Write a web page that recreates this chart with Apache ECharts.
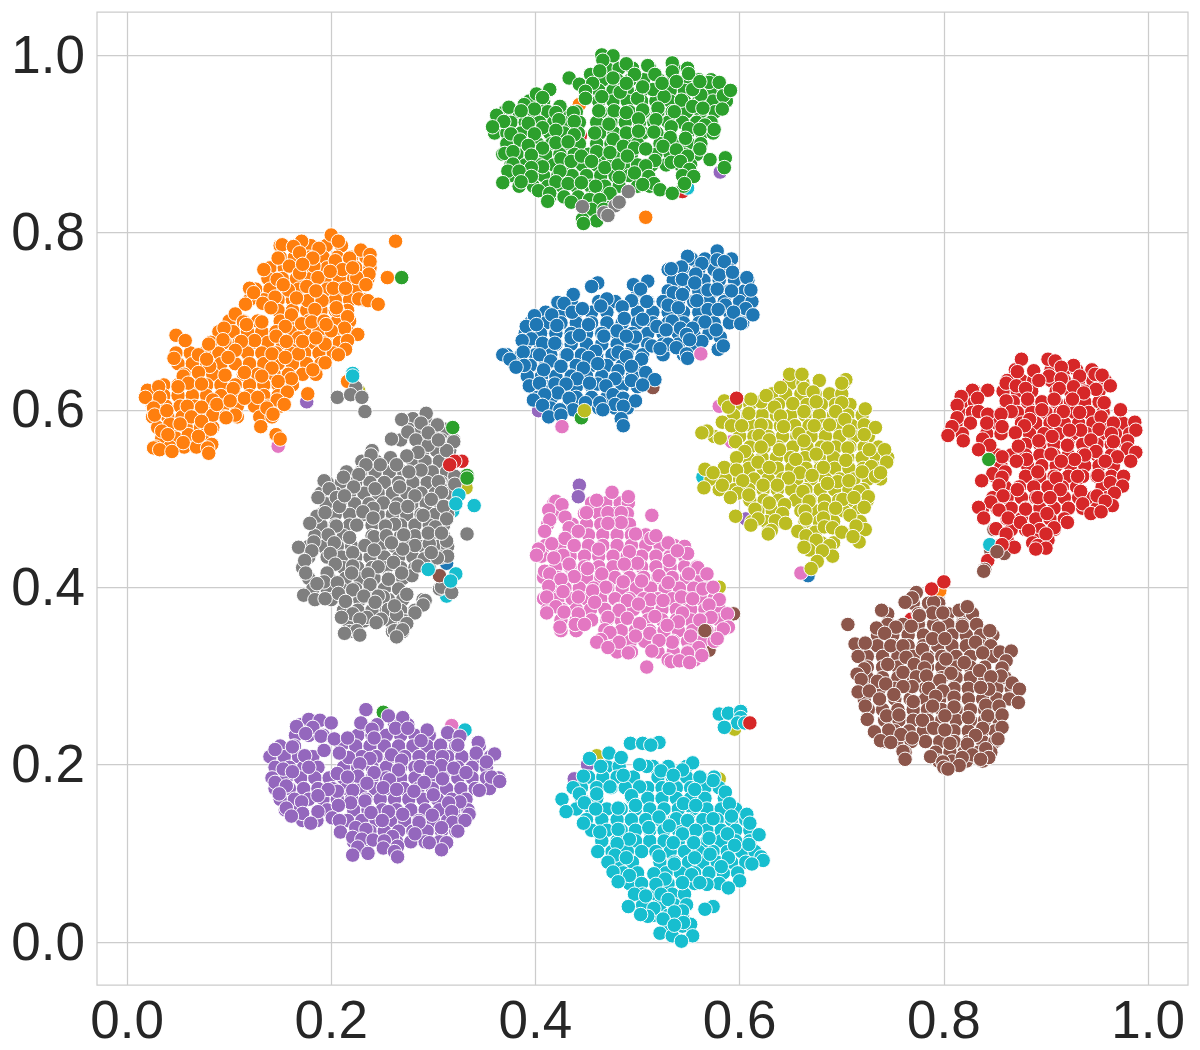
<!DOCTYPE html>
<html><head><meta charset="utf-8"><style>html,body{margin:0;padding:0;background:#fff}#c{width:1200px;height:1050px}</style>
<script src="https://cdn.jsdelivr.net/npm/echarts@6/dist/echarts.min.js"></script></head><body><div id="c"></div>
<script>
const tickValues=[0,0.2,0.4,0.6,0.8,1.0];
const tab10Blue=[[.578,.779],[.549,.773],[.563,.765],[.578,.769],[.585,.767],[.543,.761],[.533,.759],[.557,.753],[.580,.752],[.593,.755],[.544,.747],[.556,.743],[.607,.749],[.461,.743],[.455,.739],[.510,.745],[.496,.741],[.503,.736],[.535,.732],[.569,.735],[.578,.736],[.592,.734],[.611,.735],[.437,.730],[.470,.725],[.494,.723],[.509,.722],[.558,.723],[.544,.730],[.422,.721],[.428,.720],[.464,.717],[.530,.718],[.540,.715],[.586,.718],[.606,.714],[.436,.710],[.569,.713],[.579,.713],[.594,.710],[.446,.714],[.485,.716],[.399,.706],[.416,.707],[.487,.703],[.505,.702],[.534,.700],[.601,.697],[.566,.699],[.613,.707],[.391,.694],[.401,.696],[.421,.695],[.452,.696],[.519,.694],[.542,.692],[.554,.692],[.480,.689],[.396,.680],[.387,.678],[.435,.681],[.467,.683],[.498,.682],[.489,.683],[.528,.690],[.548,.685],[.581,.682],[.577,.690],[.407,.675],[.419,.675],[.443,.684],[.563,.677],[.551,.679],[.514,.672],[.530,.674],[.579,.668],[.584,.672],[.388,.665],[.459,.666],[.481,.665],[.522,.669],[.538,.670],[.548,.663],[.368,.662],[.375,.657],[.431,.662],[.452,.659],[.404,.662],[.504,.657],[.489,.660],[.549,.658],[.389,.650],[.381,.648],[.415,.655],[.461,.652],[.408,.645],[.425,.649],[.447,.647],[.481,.644],[.508,.642],[.494,.649],[.441,.635],[.478,.635],[.494,.633],[.517,.634],[.394,.627],[.404,.630],[.419,.629],[.430,.629],[.461,.629],[.469,.627],[.505,.628],[.422,.619],[.409,.617],[.453,.630],[.476,.617],[.398,.611],[.433,.613],[.449,.608],[.463,.608],[.486,.613],[.498,.610],[.478,.606],[.407,.605],[.437,.600],[.424,.600],[.466,.600],[.486,.604],[.413,.592],[.484,.590],[.486,.582],[.425,.594]];
const tab10Orange=[[.200,.797],[.207,.790],[.188,.782],[.171,.790],[.152,.786],[.163,.784],[.169,.777],[.229,.780],[.238,.775],[.218,.771],[.204,.768],[.148,.771],[.159,.762],[.183,.762],[.238,.767],[.134,.758],[.211,.758],[.169,.754],[.237,.753],[.147,.747],[.187,.749],[.225,.749],[.234,.741],[.120,.737],[.124,.732],[.158,.735],[.202,.737],[.214,.737],[.176,.739],[.145,.727],[.133,.720],[.116,.719],[.141,.715],[.177,.723],[.191,.723],[.227,.725],[.236,.723],[.246,.719],[.206,.712],[.184,.713],[.161,.707],[.216,.705],[.106,.708],[.114,.699],[.095,.692],[.132,.699],[.155,.694],[.171,.697],[.181,.699],[.193,.700],[.213,.692],[.200,.689],[.226,.685],[.146,.683],[.168,.681],[.125,.678],[.112,.677],[.048,.684],[.057,.678],[.080,.674],[.216,.678],[.194,.674],[.106,.667],[.214,.668],[.168,.663],[.142,.663],[.099,.659],[.070,.662],[.046,.658],[.207,.662],[.155,.659],[.194,.653],[.081,.649],[.142,.647],[.115,.642],[.182,.645],[.070,.642],[.096,.639],[.132,.638],[.161,.635],[.055,.638],[.060,.630],[.148,.632],[.050,.626],[.104,.624],[.177,.618],[.020,.622],[.031,.626],[.157,.620],[.032,.614],[.018,.614],[.084,.611],[.115,.613],[.128,.614],[.147,.611],[.059,.604],[.073,.603],[.154,.606],[.137,.602],[.026,.602],[.027,.594],[.084,.594],[.106,.594],[.097,.591],[.063,.592],[.073,.587],[.042,.584],[.143,.595],[.131,.581],[.082,.578],[.034,.576],[.040,.572],[.060,.572],[.146,.572],[.150,.567],[.083,.561],[.026,.557],[.032,.555],[.044,.553],[.079,.557],[.080,.551],[.055,.563],[.070,.570],[.117,.696],[.094,.679],[.078,.657],[.073,.629],[.039,.599],[.052,.584],[.088,.606],[.101,.610],[.172,.677],[.185,.681],[.156,.677],[.195,.696],[.205,.715],[.185,.734],[.166,.726],[.153,.741],[.182,.771],[.199,.756],[.221,.760],[.172,.764],[.263,.790],[.255,.749]];
const tab10Green=[[.465,1.000],[.476,.999],[.466,.994],[.489,.990],[.510,.988],[.534,.991],[.433,.974],[.454,.978],[.463,.982],[.476,.974],[.497,.978],[.517,.978],[.534,.981],[.550,.979],[.443,.967],[.456,.968],[.449,.959],[.449,.951],[.414,.961],[.401,.956],[.407,.952],[.483,.958],[.465,.953],[.500,.951],[.515,.961],[.526,.953],[.543,.949],[.562,.955],[.570,.969],[.580,.969],[.584,.954],[.591,.960],[.554,.961],[.561,.970],[.538,.970],[.524,.968],[.489,.968],[.505,.964],[.374,.941],[.389,.944],[.399,.939],[.424,.942],[.362,.932],[.369,.925],[.386,.937],[.420,.935],[.437,.935],[.462,.937],[.477,.937],[.489,.935],[.505,.938],[.520,.940],[.536,.936],[.554,.942],[.564,.940],[.583,.939],[.423,.927],[.438,.925],[.393,.923],[.407,.918],[.358,.919],[.472,.922],[.501,.928],[.518,.927],[.533,.919],[.550,.917],[.566,.921],[.575,.916],[.561,.916],[.376,.911],[.399,.911],[.420,.915],[.438,.910],[.458,.912],[.489,.912],[.501,.914],[.516,.913],[.385,.904],[.420,.901],[.432,.902],[.476,.905],[.532,.907],[.547,.906],[.561,.894],[.393,.898],[.407,.895],[.370,.889],[.378,.891],[.396,.887],[.460,.891],[.473,.890],[.486,.897],[.497,.895],[.508,.894],[.525,.897],[.538,.893],[.549,.886],[.425,.883],[.435,.880],[.445,.886],[.455,.880],[.378,.877],[.407,.874],[.396,.873],[.468,.873],[.481,.876],[.490,.886],[.517,.881],[.533,.879],[.542,.880],[.571,.882],[.586,.884],[.585,.873],[.373,.869],[.384,.869],[.424,.869],[.551,.871],[.508,.875],[.396,.863],[.368,.856],[.386,.857],[.420,.857],[.432,.855],[.445,.856],[.459,.852],[.482,.862],[.497,.867],[.511,.863],[.516,.855],[.544,.864],[.555,.863],[.546,.855],[.505,.854],[.403,.847],[.414,.844],[.428,.840],[.435,.834],[.473,.844],[.522,.848],[.534,.844],[.453,.837],[.463,.837],[.412,.835],[.455,.826],[.467,.826],[.446,.815],[.460,.813],[.447,.810],[.469,.820],[.269,.749]];
const tab10Red=[[.876,.657],[.902,.657],[.909,.655],[.927,.650],[.915,.648],[.872,.643],[.888,.644],[.903,.638],[.933,.638],[.948,.640],[.955,.639],[.915,.635],[.861,.630],[.893,.633],[.927,.626],[.963,.627],[.843,.622],[.828,.622],[.871,.627],[.880,.624],[.913,.624],[.949,.623],[.817,.615],[.833,.613],[.937,.619],[.882,.612],[.861,.610],[.908,.612],[.957,.608],[.813,.605],[.926,.612],[.834,.598],[.973,.600],[.896,.600],[.917,.598],[.933,.597],[.866,.598],[.843,.595],[.856,.595],[.813,.591],[.954,.592],[.884,.589],[.908,.588],[.842,.585],[.966,.585],[.987,.586],[.808,.581],[.857,.581],[.879,.582],[.934,.577],[.952,.578],[.923,.577],[.870,.574],[.988,.577],[.804,.571],[.906,.570],[.964,.573],[.893,.565],[.819,.565],[.838,.567],[.944,.566],[.980,.565],[.921,.560],[.873,.559],[.845,.560],[.966,.564],[.834,.555],[.949,.553],[.980,.556],[.988,.552],[.905,.550],[.938,.549],[.970,.547],[.881,.544],[.871,.542],[.958,.542],[.928,.544],[.983,.542],[.857,.547],[.915,.542],[.892,.530],[.848,.528],[.860,.530],[.931,.525],[.951,.526],[.976,.525],[.857,.524],[.910,.523],[.837,.520],[.963,.518],[.914,.510],[.872,.510],[.934,.508],[.975,.514],[.854,.515],[.967,.506],[.858,.503],[.892,.501],[.904,.501],[.950,.503],[.846,.496],[.880,.488],[.936,.494],[.834,.490],[.965,.492],[.854,.487],[.958,.497],[.944,.483],[.901,.483],[.954,.485],[.839,.478],[.863,.478],[.921,.473],[.875,.473],[.908,.467],[.883,.464],[.851,.466],[.861,.460],[.900,.460],[.869,.445],[.887,.450],[.892,.447],[.900,.444],[.890,.443],[.857,.448],[.843,.430]];
const tab10Purple=[[.234,.262],[.256,.255],[.270,.253],[.178,.251],[.189,.250],[.200,.247],[.229,.247],[.166,.243],[.182,.242],[.263,.241],[.275,.241],[.294,.239],[.175,.235],[.240,.240],[.190,.232],[.314,.236],[.326,.232],[.203,.229],[.216,.230],[.242,.230],[.344,.225],[.288,.227],[.307,.222],[.324,.222],[.162,.220],[.145,.217],[.193,.216],[.174,.210],[.217,.208],[.208,.213],[.342,.213],[.360,.212],[.259,.211],[.238,.207],[.269,.205],[.309,.209],[.352,.203],[.153,.195],[.178,.197],[.308,.199],[.287,.198],[.228,.201],[.320,.196],[.162,.192],[.242,.191],[.266,.194],[.332,.191],[.206,.190],[.298,.192],[.226,.187],[.357,.186],[.216,.186],[.309,.184],[.257,.183],[.145,.180],[.291,.180],[.156,.176],[.365,.181],[.235,.179],[.345,.171],[.251,.174],[.221,.171],[.206,.170],[.264,.172],[.281,.170],[.197,.172],[.187,.165],[.300,.166],[.149,.167],[.171,.158],[.233,.159],[.326,.158],[.219,.157],[.315,.157],[.207,.154],[.156,.151],[.318,.147],[.187,.147],[.256,.147],[.172,.145],[.270,.144],[.299,.143],[.335,.144],[.161,.142],[.201,.140],[.239,.146],[.250,.137],[.286,.135],[.180,.134],[.208,.137],[.319,.135],[.331,.137],[.308,.129],[.224,.129],[.234,.127],[.324,.125],[.209,.124],[.282,.122],[.260,.119],[.221,.118],[.230,.116],[.241,.115],[.252,.114],[.296,.112],[.313,.112],[.226,.107],[.265,.108],[.308,.104],[.251,.106],[.262,.102],[.236,.100],[.221,.098],[.265,.096]];
const tab10Brown=[[.773,.394],[.769,.388],[.762,.383],[.790,.383],[.739,.374],[.815,.374],[.823,.378],[.789,.371],[.799,.371],[.776,.368],[.706,.358],[.753,.355],[.768,.356],[.734,.354],[.795,.354],[.818,.356],[.845,.351],[.789,.342],[.801,.342],[.742,.348],[.831,.338],[.713,.336],[.723,.337],[.748,.334],[.760,.334],[.779,.330],[.855,.327],[.838,.326],[.866,.328],[.716,.322],[.763,.321],[.784,.319],[.802,.319],[.820,.315],[.861,.317],[.745,.313],[.771,.313],[.857,.309],[.781,.309],[.722,.308],[.760,.304],[.835,.306],[.807,.303],[.715,.302],[.856,.300],[.719,.296],[.773,.299],[.783,.300],[.846,.299],[.796,.295],[.735,.294],[.743,.291],[.769,.288],[.760,.288],[.785,.286],[.844,.285],[.867,.292],[.874,.285],[.716,.282],[.799,.283],[.751,.279],[.727,.283],[.836,.287],[.737,.274],[.792,.277],[.810,.276],[.864,.274],[.873,.270],[.770,.271],[.723,.266],[.841,.267],[.854,.266],[.789,.266],[.810,.265],[.744,.255],[.756,.256],[.824,.253],[.843,.255],[.857,.256],[.725,.251],[.779,.250],[.801,.255],[.857,.242],[.838,.241],[.790,.241],[.732,.237],[.746,.239],[.801,.239],[.758,.234],[.831,.233],[.769,.230],[.738,.227],[.853,.229],[.806,.224],[.823,.223],[.748,.225],[.760,.215],[.841,.218],[.828,.211],[.787,.209],[.844,.208],[.762,.206],[.818,.208],[.836,.206],[.799,.203],[.815,.199],[.800,.197],[.804,.195]];
const tab10Pink=[[.475,.507],[.491,.502],[.460,.498],[.420,.497],[.426,.493],[.413,.487],[.514,.481],[.429,.479],[.471,.484],[.484,.484],[.450,.484],[.414,.476],[.484,.473],[.471,.472],[.433,.467],[.409,.463],[.442,.463],[.498,.460],[.513,.455],[.518,.458],[.416,.449],[.429,.455],[.438,.447],[.530,.450],[.403,.443],[.462,.443],[.492,.440],[.401,.436],[.546,.446],[.549,.438],[.427,.436],[.418,.433],[.531,.430],[.539,.441],[.451,.421],[.433,.426],[.500,.427],[.487,.426],[.559,.422],[.409,.418],[.414,.415],[.568,.415],[.550,.415],[.465,.415],[.521,.413],[.438,.412],[.486,.406],[.504,.407],[.530,.405],[.425,.409],[.413,.401],[.469,.400],[.564,.398],[.574,.400],[.427,.395],[.456,.396],[.442,.389],[.411,.389],[.543,.389],[.513,.386],[.458,.383],[.580,.386],[.525,.385],[.490,.385],[.501,.381],[.554,.387],[.570,.380],[.420,.378],[.482,.374],[.411,.371],[.428,.372],[.588,.370],[.517,.367],[.544,.371],[.442,.370],[.490,.365],[.572,.366],[.561,.363],[.540,.361],[.502,.359],[.471,.366],[.424,.355],[.439,.358],[.448,.358],[.529,.357],[.468,.352],[.589,.355],[.584,.353],[.473,.349],[.512,.348],[.552,.345],[.498,.345],[.578,.342],[.464,.341],[.482,.338],[.534,.338],[.521,.340],[.460,.338],[.560,.332],[.471,.332],[.491,.326],[.514,.328],[.549,.326],[.563,.323],[.533,.316],[.541,.317],[.551,.315],[.509,.310]];
const tab10Gray=[[.293,.596],[.269,.589],[.288,.585],[.304,.583],[.275,.575],[.259,.567],[.283,.566],[.295,.560],[.320,.564],[.313,.554],[.285,.552],[.239,.549],[.274,.548],[.258,.546],[.248,.538],[.264,.538],[.234,.538],[.288,.532],[.276,.530],[.227,.527],[.212,.524],[.193,.520],[.321,.525],[.305,.519],[.198,.511],[.222,.513],[.243,.511],[.267,.513],[.321,.516],[.187,.501],[.205,.501],[.282,.503],[.251,.495],[.208,.491],[.241,.489],[.263,.489],[.275,.491],[.310,.491],[.231,.485],[.290,.481],[.241,.478],[.186,.480],[.179,.472],[.313,.477],[.205,.469],[.225,.470],[.262,.471],[.253,.469],[.302,.468],[.197,.459],[.218,.456],[.242,.457],[.271,.459],[.333,.460],[.254,.458],[.313,.452],[.183,.451],[.203,.450],[.282,.447],[.296,.449],[.233,.447],[.168,.445],[.181,.441],[.242,.442],[.270,.443],[.221,.439],[.199,.438],[.314,.435],[.291,.432],[.304,.433],[.174,.430],[.261,.428],[.221,.424],[.204,.426],[.246,.423],[.175,.416],[.196,.416],[.236,.415],[.279,.413],[.256,.409],[.193,.406],[.206,.405],[.186,.404],[.238,.403],[.221,.397],[.308,.400],[.274,.392],[.318,.394],[.207,.393],[.173,.391],[.232,.390],[.251,.389],[.184,.386],[.194,.387],[.214,.384],[.292,.385],[.290,.380],[.256,.375],[.221,.370],[.264,.369],[.282,.371],[.235,.366],[.210,.366],[.228,.364],[.249,.364],[.274,.359],[.225,.351],[.213,.348],[.228,.346],[.262,.351],[.270,.352],[.264,.344],[.244,.360],[.295,.574],[.305,.566],[.308,.507],[.298,.499],[.295,.461],[.308,.461],[.220,.416],[.246,.390],[.213,.503],[.194,.484],[.259,.450],[.285,.424],[.269,.416],[.262,.379],[.243,.383],[.298,.439],[.224,.625],[.206,.614],[.219,.617],[.230,.614],[.233,.598],[.491,.846],[.478,.830],[.482,.834],[.446,.829],[.467,.822],[.471,.819]];
const tab10Olive=[[.649,.640],[.661,.640],[.704,.634],[.678,.633],[.700,.630],[.640,.625],[.663,.624],[.672,.620],[.621,.609],[.626,.616],[.611,.612],[.585,.610],[.589,.603],[.652,.607],[.675,.609],[.700,.608],[.634,.603],[.723,.601],[.609,.596],[.663,.598],[.694,.598],[.640,.593],[.703,.589],[.583,.586],[.592,.582],[.621,.583],[.643,.581],[.673,.582],[.688,.583],[.722,.583],[.733,.580],[.602,.582],[.568,.576],[.563,.574],[.658,.573],[.722,.572],[.707,.576],[.581,.568],[.619,.571],[.663,.565],[.629,.566],[.596,.564],[.686,.557],[.727,.555],[.621,.558],[.605,.553],[.639,.555],[.706,.557],[.742,.555],[.655,.544],[.597,.546],[.704,.543],[.744,.541],[.618,.541],[.675,.550],[.585,.535],[.629,.535],[.566,.533],[.574,.529],[.597,.532],[.682,.535],[.729,.536],[.720,.530],[.659,.529],[.671,.526],[.603,.520],[.648,.523],[.696,.519],[.707,.520],[.733,.525],[.686,.517],[.565,.512],[.583,.515],[.623,.515],[.637,.515],[.738,.529],[.598,.506],[.609,.504],[.662,.508],[.717,.508],[.701,.499],[.712,.501],[.726,.502],[.591,.501],[.629,.495],[.644,.493],[.668,.497],[.722,.490],[.683,.489],[.694,.489],[.615,.488],[.664,.486],[.642,.483],[.596,.480],[.708,.481],[.618,.477],[.635,.475],[.682,.478],[.665,.477],[.645,.472],[.611,.470],[.683,.468],[.691,.467],[.657,.463],[.631,.464],[.723,.465],[.714,.469],[.628,.460],[.700,.462],[.665,.458],[.717,.451],[.675,.453],[.711,.457],[.688,.447],[.668,.442],[.663,.445],[.691,.435],[.681,.441],[.676,.429],[.670,.421]];
const tab10Cyan=[[.580,.257],[.589,.258],[.601,.260],[.601,.253],[.598,.247],[.585,.242],[.605,.247],[.493,.224],[.505,.224],[.521,.225],[.513,.222],[.472,.213],[.453,.207],[.484,.208],[.464,.198],[.509,.198],[.554,.202],[.544,.194],[.523,.193],[.486,.188],[.502,.200],[.447,.187],[.535,.188],[.574,.182],[.561,.186],[.473,.175],[.502,.175],[.437,.174],[.531,.173],[.556,.172],[.586,.169],[.460,.167],[.443,.167],[.494,.165],[.426,.161],[.448,.157],[.545,.156],[.498,.154],[.557,.154],[.430,.147],[.459,.150],[.481,.151],[.590,.156],[.521,.141],[.607,.144],[.592,.142],[.574,.139],[.447,.134],[.538,.139],[.549,.137],[.610,.134],[.531,.131],[.511,.129],[.557,.126],[.481,.127],[.463,.124],[.588,.122],[.619,.121],[.544,.122],[.492,.116],[.570,.117],[.535,.112],[.609,.110],[.480,.111],[.555,.112],[.595,.109],[.461,.102],[.521,.097],[.571,.099],[.478,.098],[.589,.095],[.489,.095],[.556,.095],[.621,.096],[.623,.092],[.536,.088],[.612,.088],[.471,.090],[.582,.085],[.476,.079],[.516,.077],[.553,.076],[.527,.071],[.492,.075],[.600,.069],[.568,.065],[.481,.068],[.589,.061],[.561,.067],[.544,.067],[.518,.065],[.497,.054],[.508,.052],[.523,.054],[.530,.048],[.491,.040],[.574,.040],[.566,.037],[.516,.038],[.544,.035],[.536,.034],[.510,.029],[.503,.031],[.525,.026],[.552,.020],[.545,.022],[.522,.010],[.534,.007],[.554,.007],[.543,.001],[.536,.019]];
const clusters=[tab10Blue,tab10Orange,tab10Green,tab10Red,tab10Purple,tab10Brown,tab10Pink,tab10Gray,tab10Olive,tab10Cyan];
const colors=['#1f77b4','#ff7f0e','#2ca02c','#d62728','#9467bd','#8c564b','#e377c2','#7f7f7f','#bcbd22','#17becf'];
// the lower layers of each crowded cloud, read row by row as [y, [x, x, ...]]
const packedBlue=[[.770,[.553,.566,.580,.592]],[.758,[.530,.545,.560,.575,.590]],[.746,[.535,.550,.565,.580,.595,.608]],[.734,[.500,.530,.545,.560,.575,.590,.605]],[.722,[.435,.462,.478,.495,.510,.525,.540,.555,.570,.585,.600,.612]],[.710,[.410,.425,.440,.455,.470,.500,.515,.530,.545,.560,.575,.590,.605]],[.698,[.395,.410,.425,.440,.455,.470,.485,.500,.515,.530,.545,.560,.575,.590,.603]],[.686,[.390,.405,.420,.435,.450,.465,.480,.495,.510,.525,.540,.555,.570]],[.674,[.390,.405,.420,.435,.450,.465,.480,.495,.510,.525,.540,.555,.583]],[.662,[.372,.386,.400,.415,.430,.445,.460,.475,.490,.505,.525,.545]],[.650,[.380,.395,.410,.425,.440,.455,.470,.485,.500]],[.638,[.392,.406,.420,.435,.450,.465,.480,.495,.510]],[.626,[.395,.410,.425,.440,.455,.470,.485,.500]],[.614,[.402,.416,.440,.455,.470,.485]],[.602,[.415,.430,.462,.478,.490]]];
const packedOrange=[[.785,[.150,.165,.180,.195,.210]],[.772,[.150,.164,.178,.192,.206,.220,.234]],[.760,[.140,.154,.168,.182,.196,.210,.224,.238]],[.748,[.138,.152,.166,.180,.194,.208,.222,.236]],[.736,[.126,.140,.154,.168,.182,.196,.210,.224]],[.724,[.120,.134,.148,.162,.176,.190,.204,.218,.232]],[.712,[.148,.162,.176,.190,.204,.216]],[.700,[.100,.114,.128,.150,.164,.178,.192,.206,.218]],[.688,[.090,.104,.118,.132,.146,.160,.174,.188,.202,.216]],[.676,[.082,.096,.110,.124,.138,.152,.166,.180,.194,.208]],[.664,[.048,.062,.076,.090,.104,.118,.132,.146,.160,.174,.188,.202]],[.652,[.050,.064,.078,.092,.106,.120,.134,.148,.162,.176,.190]],[.640,[.056,.070,.084,.114,.128,.144,.158,.172,.185]],[.628,[.036,.050,.064,.078,.092,.106,.120,.134,.148,.162]],[.616,[.022,.036,.050,.064,.078,.092,.106,.120,.134,.148]],[.604,[.025,.038,.052,.066,.080,.094,.108,.125,.138,.150]],[.592,[.025,.040,.054,.068,.082,.096,.108,.130,.142]],[.580,[.030,.044,.058,.072,.084]],[.568,[.034,.048,.062,.076]],[.558,[.028,.042,.056,.068,.080]]];
const packedGreen=[[.985,[.470,.482,.495,.512,.536,.549]],[.972,[.466,.480,.493,.506,.521,.535,.548,.560,.572]],[.960,[.462,.476,.490,.504,.518,.532,.546,.558,.572,.585]],[.948,[.394,.408,.462,.476,.490,.504,.518,.532,.546,.560,.574,.587]],[.936,[.370,.384,.398,.412,.426,.440,.464,.478,.492,.506,.520,.534,.548,.562,.576]],[.924,[.362,.376,.390,.404,.418,.432,.443,.460,.474,.488,.502,.516,.530,.544,.558,.572]],[.912,[.360,.372,.386,.400,.414,.428,.442,.463,.477,.491,.505,.519,.549,.563,.574]],[.900,[.372,.388,.402,.416,.430,.443,.460,.474,.488,.500,.522,.536,.550,.562]],[.888,[.368,.382,.396,.410,.424,.438,.452,.466,.480,.494,.518,.532,.546,.558]],[.876,[.376,.390,.404,.418,.432,.446,.460,.474,.488,.500,.514,.528,.542,.552]],[.864,[.376,.392,.408,.422,.436,.450,.464,.478,.492,.510,.548]],[.852,[.384,.398,.412,.426,.440,.454,.468,.482,.500,.512,.545]],[.840,[.414,.428,.442,.456,.470]],[.828,[.448,.460,.472]]];
const packedRed=[[.645,[.870,.905,.918,.930,.945]],[.633,[.862,.876,.888,.905,.918,.932,.946,.958]],[.621,[.830,.858,.872,.886,.910,.924,.938,.952]],[.609,[.818,.830,.868,.882,.896,.910,.924,.938,.952]],[.597,[.815,.828,.858,.872,.886,.900,.914,.928,.942,.956]],[.585,[.812,.826,.852,.876,.890,.904,.918,.932,.946,.960,.975]],[.573,[.805,.818,.842,.856,.884,.898,.912,.926,.940,.954,.968,.982]],[.561,[.840,.880,.894,.908,.922,.936,.950,.964,.978]],[.549,[.852,.866,.880,.894,.908,.922,.936,.950,.964,.978]],[.537,[.856,.882,.896,.910,.924,.938,.952,.966]],[.525,[.850,.880,.894,.908,.922,.936,.950,.964]],[.513,[.860,.874,.888,.902,.916,.930,.955]],[.501,[.848,.862,.876,.890,.904,.918,.932,.946,.960]],[.489,[.838,.852,.866,.880,.894,.908,.922,.936,.950]],[.477,[.862,.876,.890,.904,.918]],[.465,[.866,.880,.894,.908]],[.453,[.862,.890,.902]]];
const packedPurple=[[.245,[.170,.184,.230,.245,.262,.275]],[.233,[.165,.178,.192,.226,.240,.254,.268,.282,.296,.318]],[.221,[.150,.164,.210,.224,.238,.252,.266,.280,.294,.308,.322,.345]],[.209,[.140,.154,.168,.182,.215,.230,.244,.258,.272,.286,.300,.314,.328,.342,.356]],[.197,[.145,.159,.173,.187,.212,.226,.240,.254,.268,.282,.296,.310,.324,.338,.352]],[.185,[.142,.156,.170,.184,.198,.212,.226,.240,.254,.268,.282,.296,.310,.324,.338,.352,.364]],[.173,[.145,.159,.173,.187,.201,.215,.229,.243,.257,.271,.285,.299,.313,.327,.341,.355]],[.161,[.150,.164,.178,.192,.206,.220,.234,.248,.262,.276,.290,.304,.318,.332]],[.149,[.155,.169,.196,.222,.236,.250,.264,.278,.292,.306,.320,.334]],[.137,[.172,.186,.216,.230,.244,.258,.272,.286,.300,.314,.328]],[.125,[.224,.238,.252,.266,.280,.294,.308,.322]],[.113,[.222,.236,.250,.264,.278,.292,.306]]];
const packedBrown=[[.382,[.770,.785,.795]],[.370,[.745,.775,.790,.804,.818,.828]],[.358,[.745,.760,.775,.790,.804,.818,.832]],[.346,[.735,.750,.765,.780,.794,.808,.822,.836,.848]],[.334,[.720,.735,.750,.765,.780,.794,.808,.822,.836,.846]],[.322,[.725,.740,.755,.770,.784,.798,.812,.826,.848,.860]],[.310,[.725,.740,.755,.770,.784,.798,.812,.826,.840,.858]],[.298,[.725,.740,.755,.770,.784,.798,.812,.826,.840,.860]],[.286,[.722,.737,.752,.767,.782,.796,.810,.824,.838,.852,.866]],[.274,[.722,.752,.767,.782,.796,.810,.824,.838,.852,.866]],[.262,[.726,.740,.755,.770,.784,.798,.812,.826,.840,.854]],[.250,[.742,.756,.770,.784,.798,.812,.826,.840,.854]],[.238,[.752,.766,.780,.796,.810,.824,.838,.850]],[.226,[.740,.754,.768,.782,.796,.810,.824,.838,.850]],[.214,[.762,.792,.806,.820,.834,.846]],[.204,[.795,.808,.822,.838]]];
const packedPink=[[.495,[.418,.455,.469,.483,.491]],[.483,[.415,.425,.448,.462,.476,.490]],[.471,[.412,.436,.450,.464,.478,.492]],[.459,[.438,.452,.466,.480,.494,.508]],[.447,[.410,.424,.438,.452,.466,.480,.494,.508,.522,.536]],[.435,[.406,.420,.434,.448,.462,.476,.490,.504,.518,.532,.546]],[.423,[.420,.434,.448,.462,.476,.490,.504,.518,.532,.546,.558]],[.411,[.408,.422,.436,.450,.464,.478,.492,.506,.520,.534,.548,.562]],[.399,[.415,.429,.443,.457,.471,.485,.499,.513,.527,.541,.555,.568]],[.387,[.408,.422,.436,.450,.464,.478,.492,.506,.520,.534,.548,.562,.575]],[.375,[.412,.426,.440,.454,.468,.482,.496,.510,.524,.538,.552,.566,.580]],[.363,[.425,.440,.455,.470,.484,.510,.524,.538,.552,.566,.580]],[.351,[.425,.440,.470,.484,.498,.512,.526,.540,.554,.568,.582]],[.339,[.465,.479,.493,.507,.521,.535,.549,.563,.575]],[.327,[.480,.494,.520,.535,.549,.562]],[.318,[.530,.544,.556]]];
const packedGray=[[.590,[.280,.292]],[.578,[.276,.288,.300,.312]],[.566,[.268,.295,.308,.320]],[.554,[.240,.290,.303,.316]],[.542,[.230,.244,.258,.280,.292,.306,.318]],[.530,[.215,.229,.243,.257,.271,.285,.299,.313]],[.518,[.196,.210,.224,.238,.252,.266,.280,.294,.308,.320]],[.506,[.190,.204,.218,.232,.246,.260,.274,.288,.302,.316]],[.494,[.195,.209,.223,.237,.251,.265,.279,.293,.307]],[.482,[.190,.204,.218,.232,.246,.260,.274,.288,.302,.314]],[.470,[.190,.204,.218,.240,.254,.268,.282,.296,.310]],[.458,[.184,.198,.212,.240,.254,.268,.282,.296,.310]],[.446,[.178,.192,.206,.220,.234,.248,.262,.276,.290,.304,.314]],[.434,[.178,.196,.210,.224,.238,.252,.266,.280,.294,.308]],[.422,[.172,.212,.226,.240,.254,.268,.282,.296]],[.410,[.178,.198,.214,.228,.242,.256,.270]],[.398,[.182,.196,.210,.224,.238,.252,.266,.306,.316]],[.386,[.200,.214,.228,.242,.256,.270,.290]],[.374,[.212,.226,.240,.254,.268,.282]],[.362,[.216,.232,.258,.272]],[.350,[.218,.260,.270]]];
const packedOlive=[[.630,[.650,.662,.702]],[.618,[.632,.645,.660,.674,.688,.700]],[.606,[.596,.610,.624,.638,.652,.666,.680,.694,.708]],[.594,[.594,.608,.622,.636,.650,.664,.678,.692,.706,.720]],[.582,[.612,.626,.640,.654,.668,.682,.696,.710,.724]],[.570,[.575,.600,.614,.628,.642,.656,.670,.684,.698,.712,.726]],[.558,[.610,.624,.638,.652,.666,.680,.694,.708,.722,.736]],[.546,[.608,.622,.636,.650,.664,.678,.692,.706,.720,.734,.745]],[.534,[.595,.609,.623,.637,.651,.665,.679,.693,.707,.721,.735]],[.522,[.572,.586,.600,.614,.628,.642,.656,.670,.684,.698,.712,.726,.738]],[.510,[.580,.595,.609,.623,.637,.651,.665,.679,.693,.707,.721]],[.498,[.610,.624,.638,.655,.669,.683,.697,.711,.725]],[.486,[.618,.632,.660,.674,.688,.702,.716]],[.474,[.612,.626,.640,.664,.678,.692,.718]],[.462,[.628,.660,.674,.712]],[.450,[.668,.680,.692]]];
const packedCyan=[[.198,[.470,.482,.515,.530,.548]],[.186,[.452,.466,.480,.496,.520,.534,.548,.562,.575]],[.174,[.445,.460,.474,.488,.510,.524,.538,.552,.566,.580]],[.162,[.445,.460,.495,.510,.524,.538,.552,.566,.585]],[.150,[.440,.455,.470,.484,.498,.512,.526,.540,.554,.568,.582,.596]],[.138,[.450,.465,.480,.494,.508,.522,.536,.550,.564,.578,.592,.606]],[.126,[.455,.470,.484,.498,.512,.526,.540,.554,.568,.582,.596,.610]],[.114,[.465,.480,.498,.512,.526,.540,.554,.568,.582,.596,.610]],[.102,[.475,.490,.504,.518,.532,.546,.560,.574,.588,.602,.615]],[.090,[.482,.495,.522,.536,.550,.564,.578,.592,.606]],[.078,[.486,.500,.528,.542,.556,.570,.584,.598]],[.066,[.492,.504,.530,.544,.556,.580]],[.054,[.505,.518,.534,.546]],[.042,[.505,.522,.536,.548]],[.030,[.515,.530,.544]],[.018,[.530,.544]]];
const packed=[packedBlue,packedOrange,packedGreen,packedRed,packedPurple,packedBrown,packedPink,packedGray,packedOlive,packedCyan];
// points of one class that sit inside another class's cluster, hidden partly beneath it
const underBlue=[[.313,.427],[.667,.413]];
const underOrange=[[.443,.944],[.796,.396],[.216,.632]];
const underGreen=[[.657,.634],[.251,.259],[.333,.526]];
const underRed=[[.444,.909],[.544,.846],[.648,.630],[.768,.364],[.328,.542]];
const underPurple=[[.581,.868],[.176,.609],[.403,.599],[.606,.477],[.451,.200],[.438,.184]];
const underBrown=[[.515,.625],[.846,.441],[.859,.438],[.849,.465],[.594,.370],[.570,.329]];
const underPink=[[.148,.559],[.611,.720],[.580,.604],[.592,.564],[.660,.416],[.318,.244]];
const underGray=[];
const underOlive=[[.227,.621],[.332,.512],[.580,.400],[.595,.240],[.460,.210],[.580,.184]];
const underCyan=[[.549,.850],[.319,.486],[.313,.390],[.845,.448],[.564,.524],[.331,.239]];
const unders=[underBlue,underOrange,underGreen,underRed,underPurple,underBrown,underPink,underGray,underOlive,underCyan];
// the same, but drawn on top
const overBlue=[];
const overOrange=[[.508,.817]];
const overGreen=[[.319,.580],[.333,.523],[.445,.591],[.844,.544]];
const overRed=[[.597,.613],[.788,.398],[.800,.406],[.610,.247],[.321,.542],[.316,.538]];
const overPurple=[[.443,.515],[.442,.502]];
const overBrown=[[.306,.413],[.566,.351],[.852,.440],[.840,.420],[.839,.418]];
const overPink=[[.562,.663],[.426,.581]];
const overGray=[];
const overOlive=[[.448,.599]];
const overCyan=[[.221,.641],[.221,.638],[.325,.504],[.322,.494],[.340,.492],[.295,.420],[.322,.415],[.317,.407]];
const overs=[overBlue,overOrange,overGreen,overRed,overPurple,overBrown,overPink,overGray,overOlive,overCyan];
const mk=(data,i,z)=>({type:'scatter',data,symbolSize:14.5,z,silent:true,large:false,itemStyle:{color:colors[i],borderColor:'#fff',borderWidth:1,opacity:1}});
const series=[];
unders.forEach((d,i)=>series.push(mk(d,i,1)));
packed.forEach((rows,i)=>series.push(mk(rows.flatMap(([y,xs])=>xs.map(x=>[x,y])),i,2)));
clusters.forEach((d,i)=>series.push(mk(d,i,3)));
overs.forEach((d,i)=>series.push(mk(d,i,4)));
const labelFont={fontFamily:'Liberation Sans',fontSize:53,color:'#262626'};
const axis=(min,max,label)=>({type:'value',min,max,
 axisLine:{show:false},
 axisTick:{show:false,customValues:tickValues},
 axisLabel:Object.assign({customValues:tickValues,margin:12,showMinLabel:true,showMaxLabel:true},labelFont,label),
 splitLine:{show:true,lineStyle:{color:'#cccccc',width:1.25}}});
const chart=echarts.init(document.getElementById('c'),null,{renderer:'canvas'});
chart.setOption({animation:false,backgroundColor:'#fff',
 grid:{left:97,right:12,top:12,bottom:63.5,show:true,borderColor:'#cccccc',borderWidth:1.25,containLabel:false},
 xAxis:axis(-0.0294,1.0391,{formatter:v=>v.toFixed(1)}),
 yAxis:axis(-0.0484,1.0484,{formatter:v=>'{a|'+v.toFixed(1)+'}',rich:{a:Object.assign({padding:[6,0,0,0]},labelFont)}}),series});
</script></body></html>
